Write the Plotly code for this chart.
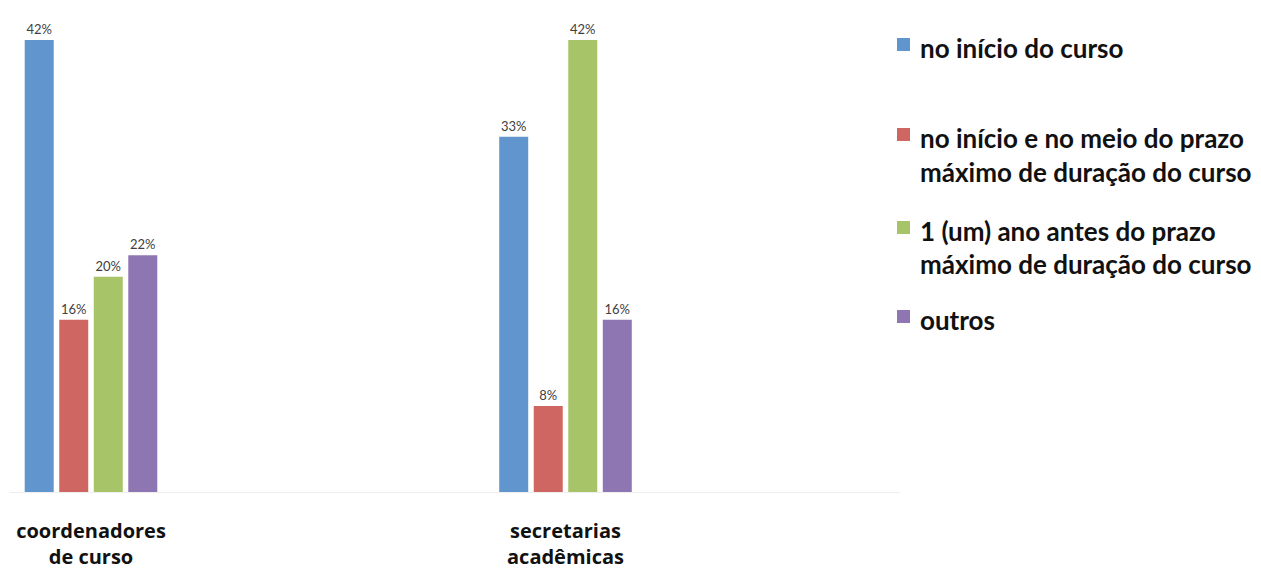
import plotly.graph_objects as go

# Survey groups and the share (%) of answers for each option
categories = ["coordenadores<br>de curso", "secretarias<br>acadêmicas"]
series_names = [
    "no início do curso",
    "no início e no meio do prazo máximo de duração do curso",
    "1 (um) ano antes do prazo máximo de duração do curso",
    "outros",
]
legend_lines = [
    ["no início do curso"],
    ["no início e no meio do prazo", "máximo de duração do curso"],
    ["1 (um) ano antes do prazo", "máximo de duração do curso"],
    ["outros"],
]
values_inicio = [42, 33]
values_inicio_meio = [16, 8]
values_um_ano = [20, 42]
values_outros = [22, 16]

series_values = [values_inicio, values_inicio_meio, values_um_ano, values_outros]
colors = ["#6096CD", "#CF6662", "#A7C468", "#8E76B2"]

W, H = 1261, 574
PLOT_L, PLOT_R, PLOT_T, PLOT_B = 10, 900, 40, 492

fig = go.Figure()
for name, vals, col in zip(series_names, series_values, colors):
    fig.add_trace(go.Bar(
        x=categories,
        y=vals,
        name=name,
        marker=dict(color=col, line=dict(width=0)),
        text=[f"{v}%" for v in vals],
        textposition="outside",
        textfont=dict(family="Lato", size=13, color="#404040"),
        cliponaxis=False,
        showlegend=False,
    ))

# Legend drawn on the right: coloured squares with bold labels
def px_to_paper_x(px):
    return (px - PLOT_L) / (PLOT_R - PLOT_L)

def px_to_paper_y(py):
    return (PLOT_B - py) / (PLOT_B - PLOT_T)

legend_line_y = [[48], [138, 172], [231, 264], [320]]
annotations = []
shapes = []
for lines, ys, col in zip(legend_lines, legend_line_y, colors):
    top = ys[0] - 10
    shapes.append(dict(
        type="rect", xref="paper", yref="paper",
        x0=px_to_paper_x(897), x1=px_to_paper_x(910),
        y0=px_to_paper_y(top), y1=px_to_paper_y(top + 13),
        fillcolor=col, line=dict(width=0),
    ))
    for line, y in zip(lines, ys):
        annotations.append(dict(
            text=f"<b>{line}</b>", xref="paper", yref="paper",
            x=px_to_paper_x(918), y=px_to_paper_y(y),
            xanchor="left", yanchor="middle", showarrow=False,
            font=dict(family="Lato", size=26, color="#111111"),
        ))

# x range chosen so that group centres sit at pixels 91 and 565
unit = 474.5
x0 = (PLOT_L - 91) / unit
x1 = (PLOT_R - 91) / unit

fig.update_layout(
    width=W, height=H,
    margin=dict(l=PLOT_L, r=W - PLOT_R, t=PLOT_T, b=H - PLOT_B),
    paper_bgcolor="white", plot_bgcolor="white",
    barmode="group", bargap=0.709, bargroupgap=0.16,
    shapes=shapes, annotations=annotations,
    xaxis=dict(
        range=[x0, x1], showgrid=False, zeroline=False, automargin=False,
        showline=True, linecolor="#EEEEEE", linewidth=1,
        ticks="outside", ticklen=21, tickcolor="rgba(0,0,0,0)",
        tickfont=dict(family="Open Sans", size=20, color="#111111"),
        tickprefix="<b>", ticksuffix="</b>",
    ),
    yaxis=dict(range=[0, 42], visible=False, showgrid=False, zeroline=False,
               automargin=False),
)

fig.write_html("out.html")
